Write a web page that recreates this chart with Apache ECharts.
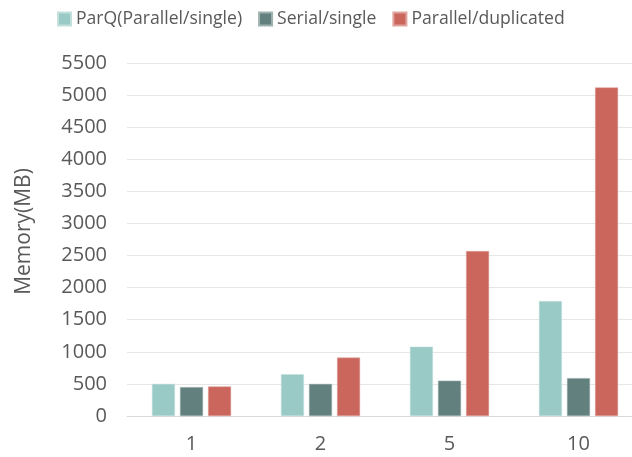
<!DOCTYPE html>
<html>
<head>
<meta charset="utf-8">
<script src="https://cdn.jsdelivr.net/npm/echarts@6/dist/echarts.min.js"></script>
<style>
html, body { margin: 0; padding: 0; background: #fff; overflow: hidden; }
#chart { width: 643px; height: 457px; }
</style>
</head>
<body>
<div id="chart"></div>
<script>
const categories = ['1', '2', '5', '10'];
const parQ = [500, 650, 1080, 1790];
const serialSingle = [450, 500, 550, 590];
const parallelDup = [460, 910, 2570, 5120];

const txt = '#595959';
const font = '"Open Sans", "Liberation Sans", sans-serif';

// chart is a bit wider than the window so the last category gets cut at the edge like the original
let chart = echarts.init(document.getElementById('chart'));
chart.setOption({
    animation: false,
    textStyle: { fontFamily: font },
    legend: {
        top: 5,
        left: 52,
        itemWidth: 13,
        itemHeight: 13,
        itemGap: 16,
        icon: 'rect',
        textStyle: { color: txt, fontSize: 17.6, fontFamily: font },
        data: ['ParQ(Parallel/single)', 'Serial/single', 'Parallel/duplicated']
    },
    grid: { left: 127, top: 63, right: 0, height: 353 },
    xAxis: {
        type: 'category',
        data: categories,
        axisLine: { lineStyle: { color: '#d9d9d9' } },
        axisTick: { show: false },
        axisLabel: { color: txt, fontSize: 20, margin: 18 }
    },
    yAxis: {
        type: 'value',
        min: 0,
        max: 5500,
        interval: 500,
        name: 'Memory(MB)',
        nameLocation: 'middle',
        nameGap: 92,
        nameTextStyle: { color: txt, fontSize: 21, padding: [0, 0, 0, 16] },
        axisLine: { show: false },
        axisTick: { show: false },
        axisLabel: { color: txt, fontSize: 20, margin: 20, formatter: v => String(v) },
        splitLine: { lineStyle: { color: '#e6e6e6' } }
    },
    series: [
        { name: 'ParQ(Parallel/single)', type: 'bar', data: parQ, barWidth: 23, barGap: '22%',
          itemStyle: { color: '#99cac6', borderColor: '#c4e0dd', borderWidth: 0.5 } },
        { name: 'Serial/single', type: 'bar', data: serialSingle, barWidth: 23, barGap: '22%',
          itemStyle: { color: '#62807d', borderColor: '#9fb2b0', borderWidth: 0.5 } },
        { name: 'Parallel/duplicated', type: 'bar', data: parallelDup, barWidth: 23, barGap: '22%',
          itemStyle: { color: '#cb665c', borderColor: '#e0a39d', borderWidth: 0.5 } }
    ]
});
</script>
</body>
</html>
